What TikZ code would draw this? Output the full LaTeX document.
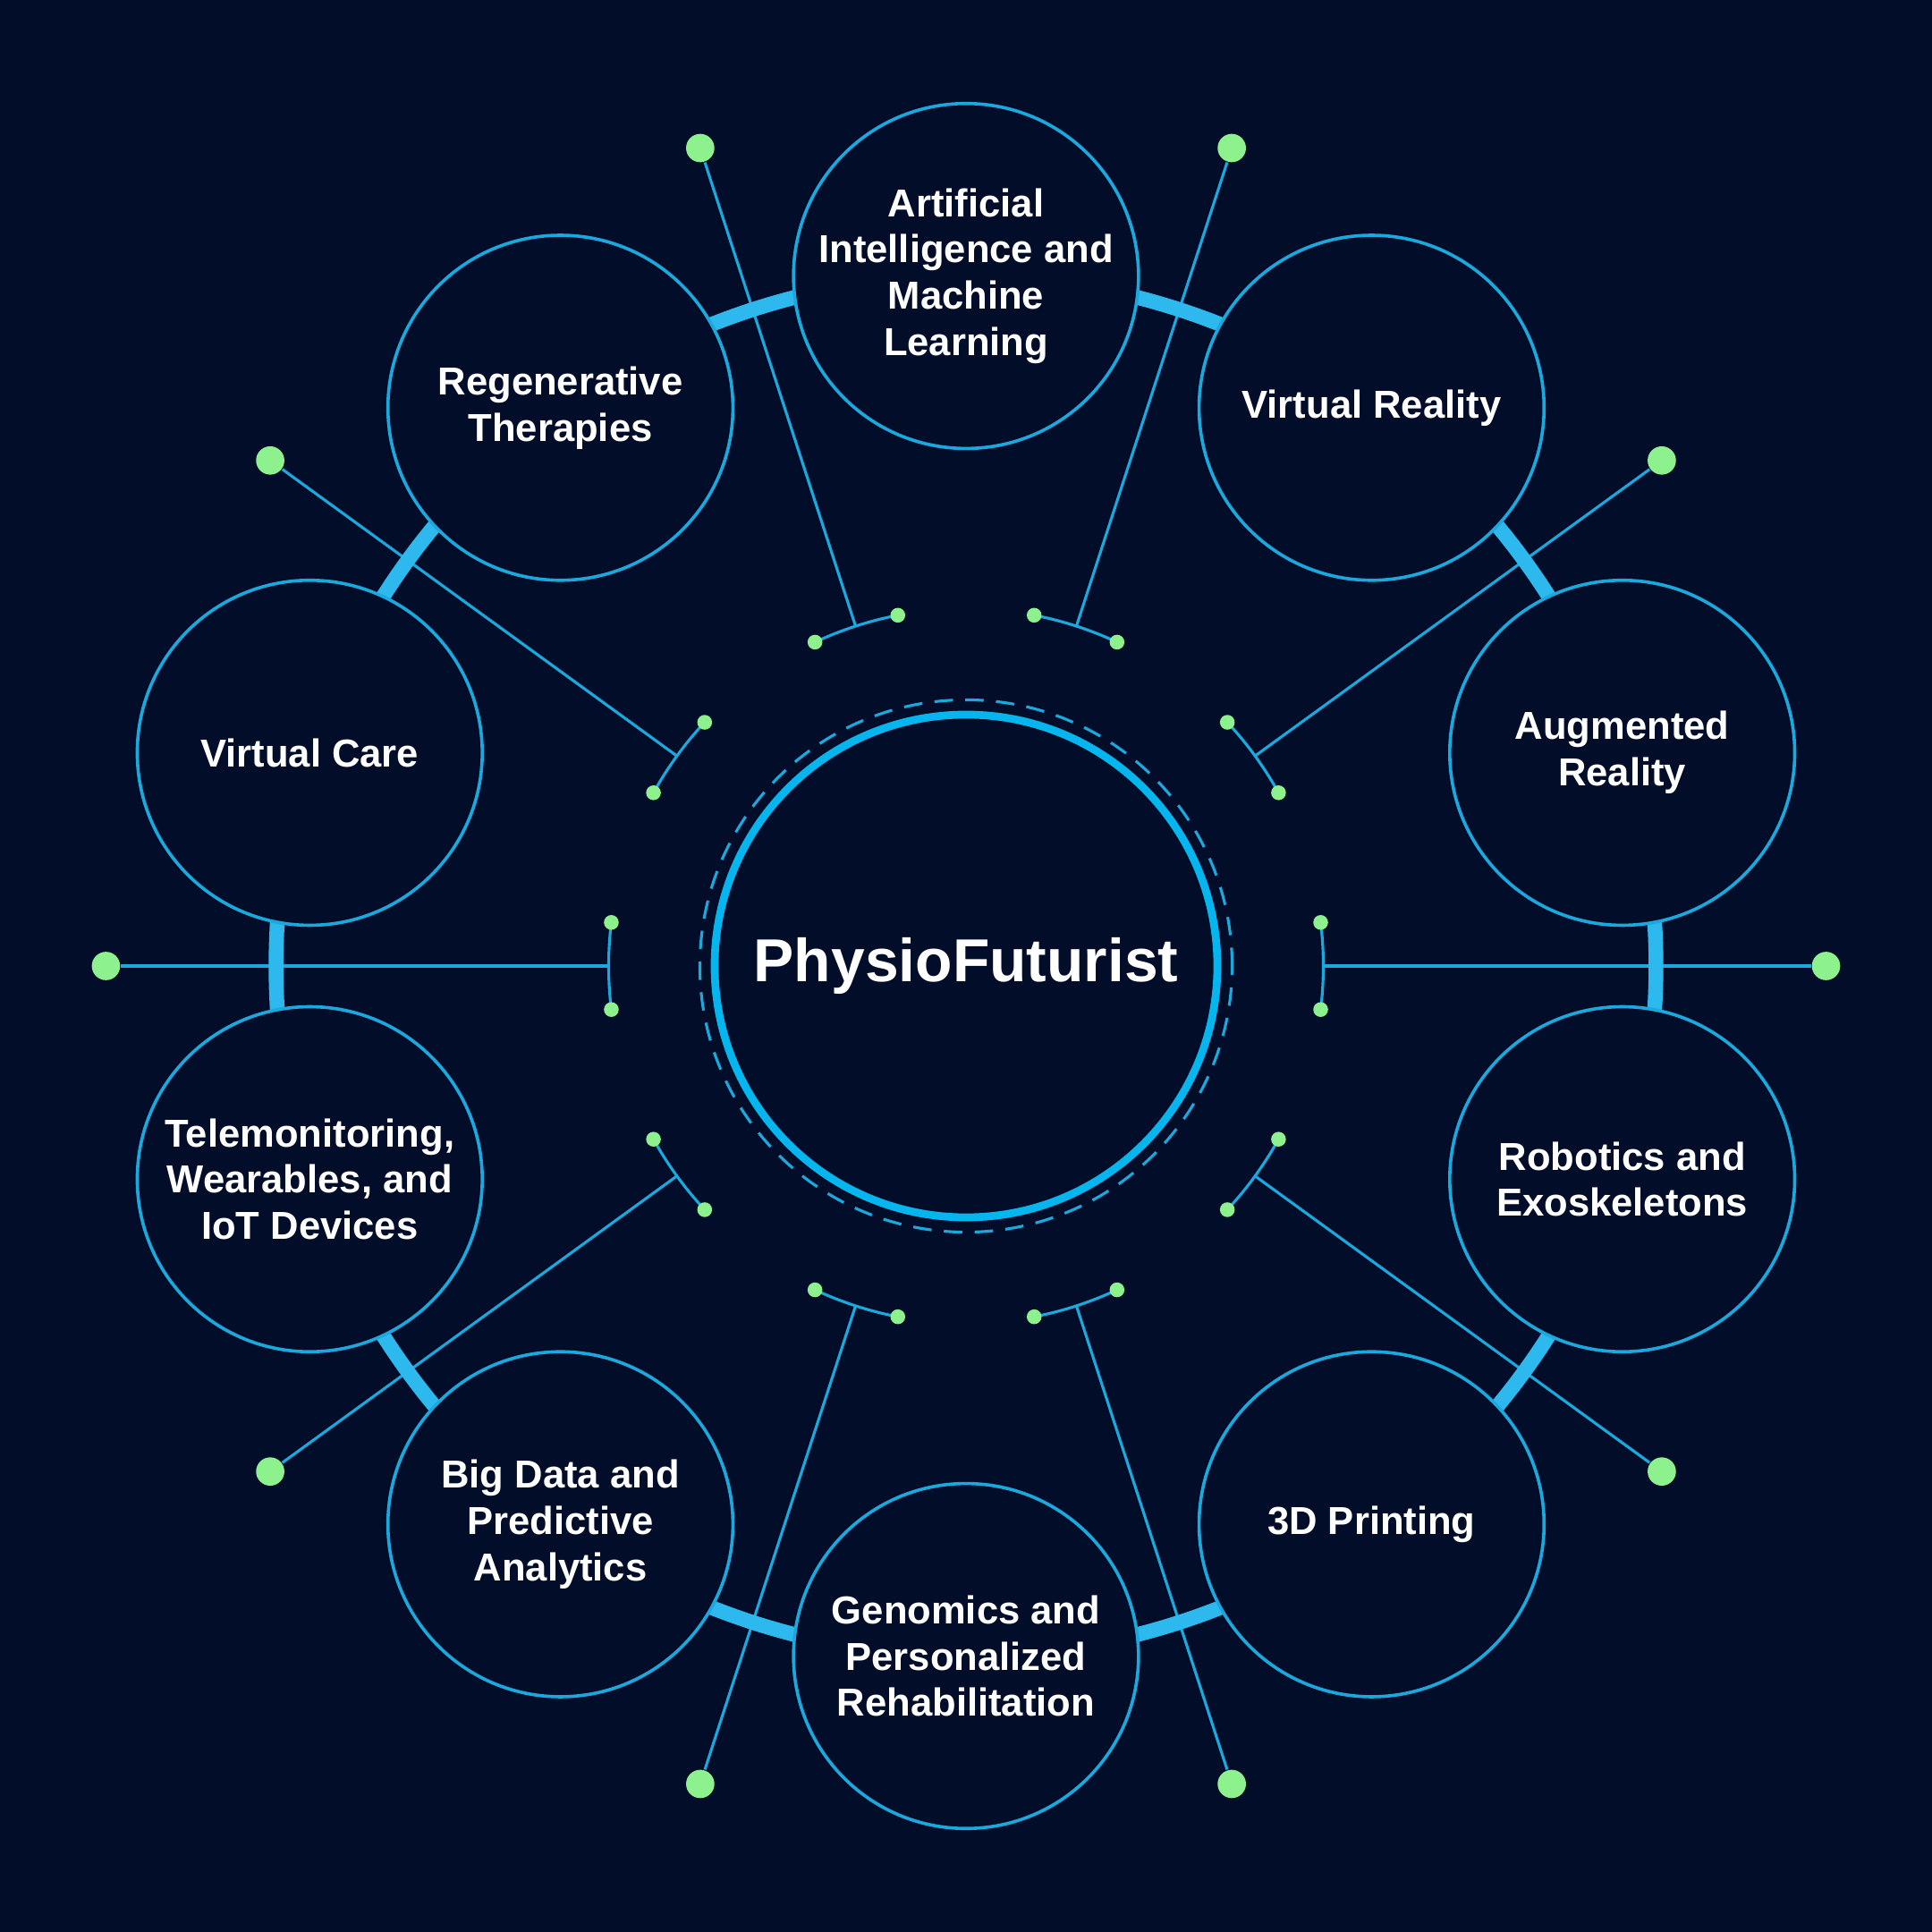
\documentclass[tikz,border=0pt]{standalone}
\usepackage{fontspec}
\setmainfont{Liberation Sans}
\definecolor{bg}{HTML}{020E29}
\definecolor{wire}{HTML}{1BA8DC}
\definecolor{band}{HTML}{2DB9EE}
\definecolor{core}{HTML}{05B5EE}
\definecolor{leaf}{HTML}{8DF28D}

\begin{document}
\begin{tikzpicture}[
    topic/.style={circle, draw=wire, line width=0.75pt, fill=bg, minimum size=2.8cm, inner sep=0, align=center, text=white, font=\bfseries\fontsize{9}{10.7}\selectfont},
    dot/.style={circle, fill=leaf, minimum size=0.23cm, inner sep=0},
    tip/.style={circle, fill=leaf, minimum size=0.12cm, inner sep=0},
    spoke/.style={draw=wire, line width=0.65pt}
]
    \fill[bg] (-7.84,-7.84) rectangle (7.84,7.84);
    \useasboundingbox (-7.84,-7.84) rectangle (7.84,7.84);
    % spokes with their end dots
    \foreach \a [count=\i] in {0,36,...,324}{
        \draw[spoke] (\a-7:2.9) arc[start angle=\a-7, end angle=\a+7, radius=2.9];
        \node[tip] (s\i) at (\a-7:2.9) {};
        \node[tip] (e\i) at (\a+7:2.9) {};
        \coordinate (c\i) at (\a:2.9);
        \node[dot] (d\i) at (\a:6.98) {};
        \draw[spoke] (c\i) -- (d\i);
    }
    \draw[band, line width=0.12cm] (0,0) circle (5.6);
    \draw
    (90:5.6)node[topic](ai){Artificial\\Intelligence and\\Machine\\Learning}
    (54:5.6)node[topic](vr){Virtual Reality}
    (18:5.6)node[topic](ar){Augmented\\Reality}
    (-18:5.6)node[topic](robo){Robotics and\\Exoskeletons}
    (-54:5.6)node[topic](print){3D Printing}
    (-90:5.6)node[topic](geno){Genomics and\\Personalized\\Rehabilitation}
    (-126:5.6)node[topic](data){Big Data and\\Predictive\\Analytics}
    (-162:5.6)node[topic](tele){Telemonitoring,\\Wearables, and\\IoT Devices}
    (162:5.6)node[topic](vcare){Virtual Care}
    (126:5.6)node[topic](regen){Regenerative\\Therapies}
    ;
    \draw[wire, line width=0.65pt, dash pattern=on 0.15cm off 0.1cm] (0,0) circle (2.16);
    \node[circle, draw=core, line width=1.8pt, minimum size=4.08cm, text=white, font=\bfseries\fontsize{14}{16}\selectfont](hub) at (0,0){PhysioFuturist};
\end{tikzpicture}
\end{document}
